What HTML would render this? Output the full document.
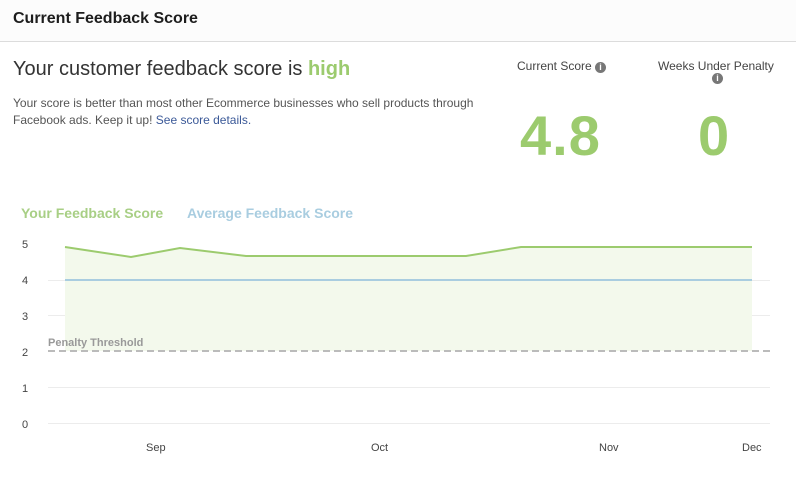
<!DOCTYPE html>
<html><head><style>
body{margin:0;width:796px;height:490px;background:#fff;font-family:"Liberation Sans",Arial,sans-serif;overflow:hidden;position:relative}
.hdr{position:absolute;left:0;top:0;width:796px;height:41px;background:#fcfcfc;border-bottom:1px solid #dcdcdc}
.hdr span{position:absolute;left:13px;top:10px;font-size:16px;font-weight:bold;color:#1d1d1d}
.t{position:absolute;white-space:nowrap}
</style></head><body>
<div class="hdr"><span>Current Feedback Score</span></div>
<div class="t" style="left:13px;top:58px;font-size:20px;color:#333">Your customer feedback score is <b style="color:#9ccb6e">high</b></div>
<div class="t" style="left:13px;top:95px;font-size:12px;color:#555;line-height:17px">Your score is better than most other Ecommerce businesses who sell products through<br>Facebook ads. Keep it up! <span style="color:#3b5998">See score details.</span></div>
<div class="t" style="left:517px;top:59px;font-size:12px;color:#444">Current Score <span style="display:inline-block;width:11px;height:11px;border-radius:50%;background:#777;color:#fff;font-size:9px;text-align:center;line-height:11px;font-weight:bold">i</span></div>
<div class="t" style="left:658px;top:59px;font-size:12px;color:#444">Weeks Under Penalty</div>
<div class="t" style="left:712px;top:73px;width:11px;height:11px;border-radius:50%;background:#777;color:#fff;font-size:9px;text-align:center;line-height:11px;font-weight:bold">i</div>
<div class="t" style="left:520px;top:103px;font-size:56px;font-weight:bold;color:#9ccb6e;letter-spacing:1px">4.8</div>
<div class="t" style="left:698px;top:103px;font-size:56px;font-weight:bold;color:#9ccb6e">0</div>
<div class="t" style="left:21px;top:205px;font-size:14px;font-weight:bold;color:#a8cf85">Your Feedback Score</div>
<div class="t" style="left:187px;top:205px;font-size:14px;font-weight:bold;color:#a9cde0">Average Feedback Score</div>
<svg width="796" height="490" style="position:absolute;left:0;top:0">
<g stroke="#ececec" stroke-width="1">
<line x1="48" x2="770" y1="280.5" y2="280.5"/><line x1="48" x2="770" y1="315.5" y2="315.5"/>
<line x1="48" x2="770" y1="387.5" y2="387.5"/><line x1="48" x2="770" y1="423.5" y2="423.5"/>
</g>
<g font-size="11" fill="#444" font-family="Liberation Sans">
<text x="22" y="248">5</text><text x="22" y="284">4</text><text x="22" y="320">3</text><text x="22" y="356">2</text><text x="22" y="392">1</text><text x="22" y="428">0</text>
<text x="146" y="451">Sep</text><text x="371" y="451">Oct</text><text x="599" y="451">Nov</text><text x="742" y="451">Dec</text>
</g>
<polygon points="65,247 131,257 180,248 246,256 361,256 466,256 521,247 600,247 752,247 752,351 65,351" fill="#f3f9ec"/>
<polyline points="65,247 131,257 180,248 246,256 361,256 466,256 521,247 600,247 752,247" fill="none" stroke="#9ccb6e" stroke-width="2"/>
<line x1="65" x2="752" y1="280" y2="280" stroke="#a9cde0" stroke-width="2"/>
<line x1="48" x2="770" y1="351" y2="351" stroke="#bbb" stroke-width="2" stroke-dasharray="7,4"/>
<text x="48" y="346" font-size="11" font-weight="bold" fill="#999" font-family="Liberation Sans">Penalty Threshold</text>
</svg>
</body></html>
